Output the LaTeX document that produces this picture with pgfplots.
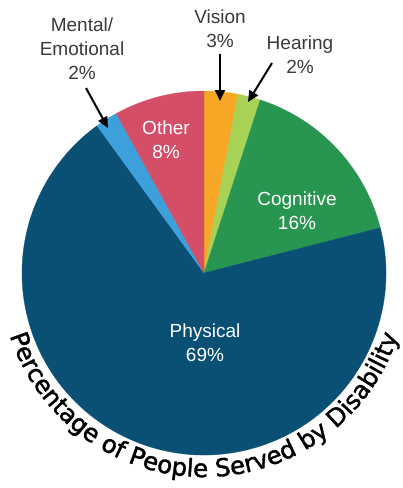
\documentclass[border=0pt]{standalone}
\usepackage{pgfplots}
\pgfplotsset{compat=1.18}
\usepackage{pgfplotstable}
\usetikzlibrary{arrows.meta,decorations.text}
\usepackage{fontspec}
\setmainfont{Liberation Sans}
\newfontfamily\titlefont[FakeBold=1.6]{DejaVu Sans}
\definecolor{cPhys}{RGB}{10,80,117}
\definecolor{cCog}{RGB}{40,150,80}
\definecolor{cHear}{RGB}{168,210,85}
\definecolor{cVis}{RGB}{247,166,37}
\definecolor{cOther}{RGB}{212,78,104}
\definecolor{cMent}{RGB}{62,160,218}
\definecolor{lab}{RGB}{58,58,58}
\pgfplotstableread{
name pct
Vision 3
Hearing 2
Cognitive 16
Physical 69
Mental 2
Other 8
}\piedata
\pgfplotstablegetelem{0}{pct}\of\piedata\pgfmathsetmacro\aA{90-3.6*\pgfplotsretval}
\pgfplotstablegetelem{1}{pct}\of\piedata\pgfmathsetmacro\aB{\aA-3.6*\pgfplotsretval}
\pgfplotstablegetelem{2}{pct}\of\piedata\pgfmathsetmacro\aC{\aB-3.6*\pgfplotsretval}
\pgfplotstablegetelem{3}{pct}\of\piedata\pgfmathsetmacro\aD{\aC-3.6*\pgfplotsretval}
\pgfplotstablegetelem{4}{pct}\of\piedata\pgfmathsetmacro\aE{\aD-3.6*\pgfplotsretval}
\pgfplotstablegetelem{5}{pct}\of\piedata\pgfmathsetmacro\aF{\aE-3.6*\pgfplotsretval}
\begin{document}
\begin{tikzpicture}
\begin{axis}[width=403pt,height=488pt,scale only axis,
  xmin=0,xmax=403,ymin=0,ymax=488,y dir=reverse,hide axis,clip=false]
\coordinate (O) at (axis cs:204,273);
\filldraw[fill=cVis,draw=cVis,line width=0.3pt] (O) -- ([shift={(90:182pt)}]O) arc[start angle=90,end angle=\aA,radius=182pt] -- cycle;
\filldraw[fill=cHear,draw=cHear,line width=0.3pt] (O) -- ([shift={(\aA:182pt)}]O) arc[start angle=\aA,end angle=\aB,radius=182pt] -- cycle;
\filldraw[fill=cCog,draw=cCog,line width=0.3pt] (O) -- ([shift={(\aB:182pt)}]O) arc[start angle=\aB,end angle=\aC,radius=182pt] -- cycle;
\filldraw[fill=cPhys,draw=cPhys,line width=0.3pt] (O) -- ([shift={(\aC:182pt)}]O) arc[start angle=\aC,end angle=\aD,radius=182pt] -- cycle;
\filldraw[fill=cMent,draw=cMent,line width=0.3pt] (O) -- ([shift={(\aD:182pt)}]O) arc[start angle=\aD,end angle=\aE,radius=182pt] -- cycle;
\filldraw[fill=cOther,draw=cOther,line width=0.3pt] (O) -- ([shift={(\aE:182pt)}]O) arc[start angle=\aE,end angle=\aF,radius=182pt] -- cycle;
% inside labels
\node[white,align=center,font=\fontsize{19}{24}\selectfont] at (axis cs:166,140) {Other\\8\%};
\node[white,align=center,font=\fontsize{19}{24}\selectfont] at (axis cs:297,211) {Cognitive\\16\%};
\node[white,align=center,font=\fontsize{19}{24}\selectfont] at (axis cs:205,343) {Physical\\69\%};
% outside labels
\node[lab,align=center,font=\fontsize{19}{24}\selectfont] at (axis cs:82,49) {Mental/\\Emotional\\2\%};
\node[lab,align=center,font=\fontsize{19}{24}\selectfont] at (axis cs:220,29) {Vision\\3\%};
\node[lab,align=center,font=\fontsize{19}{24}\selectfont] at (axis cs:300,55) {Hearing\\2\%};
% arrows
\draw[line width=2pt,-{Triangle[length=11pt,width=10pt]}] (axis cs:86,88) -- (axis cs:108,128);
\draw[line width=2pt,-{Triangle[length=11pt,width=10pt]}] (axis cs:220,54) -- (axis cs:220,101);
\draw[line width=2pt,-{Triangle[length=11pt,width=10pt]}] (axis cs:272,63) -- (axis cs:248,102);
% curved title
\path[decorate,decoration={text along path,
  text={|\titlefont\fontsize{24.5}{25}\selectfont|Percentage of People Served by Disability},
  text align=center}]
  ([shift={(190:204pt)}]O) arc[start angle=190,end angle=350,radius=204pt];
\end{axis}
\pgfresetboundingbox
\path[use as bounding box] (current axis.south west) rectangle (current axis.north east);
\end{tikzpicture}
\end{document}
